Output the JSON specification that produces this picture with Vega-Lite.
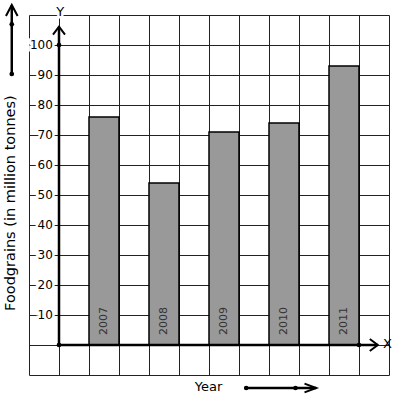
{
  "$schema": "https://vega.github.io/schema/vega-lite/v6.json",
  "width": 360,
  "height": 360,
  "autosize": "none",
  "padding": {"left": 29, "top": 15, "right": 8, "bottom": 26},
  "background": "white",
  "config": {"view": {"stroke": null}, "font": "DejaVu Sans"},
  "data": {"values": [{}]},
  "datasets": {
    "production": [
      {"year": 2007, "foodgrains": 76},
      {"year": 2008, "foodgrains": 54},
      {"year": 2009, "foodgrains": 71},
      {"year": 2010, "foodgrains": 74},
      {"year": 2011, "foodgrains": 93}
    ],
    "ticks": [
      {"v": 10}, {"v": 20}, {"v": 30}, {"v": 40}, {"v": 50},
      {"v": 60}, {"v": 70}, {"v": 80}, {"v": 90}, {"v": 100}
    ]
  },
  "layer": [
    {
      "data": {"name": "production"},
      "mark": {"type": "bar", "width": 30, "fill": "#999999", "stroke": "#000000", "strokeWidth": 1.5},
      "encoding": {
        "x": {"field": "year", "type": "quantitative",
              "scale": {"domain": [2005.75, 2011.75], "nice": false, "zero": false, "padding": 0},
              "axis": {"values": [2005.75, 2006.25, 2006.75, 2007.25, 2007.75, 2008.25, 2008.75, 2009.25, 2009.75, 2010.25, 2010.75, 2011.25, 2011.75],
                       "tickCount": 30,
                       "grid": true, "labels": false, "ticks": false, "domain": false, "title": null,
                       "gridColor": "#222222", "gridOpacity": 1, "gridWidth": 1}},
        "y": {"field": "foodgrains", "type": "quantitative",
              "scale": {"domain": [-10, 110], "nice": false, "zero": false, "padding": 0},
              "axis": {"values": [-10, 0, 10, 20, 30, 40, 50, 60, 70, 80, 90, 100, 110],
                       "tickCount": 30,
                       "grid": true, "labels": false, "ticks": false, "domain": false, "title": null,
                       "gridColor": "#222222", "gridOpacity": 1, "gridWidth": 1}},
        "y2": {"datum": 0}
      }
    },
    {
      "data": {"name": "production"},
      "mark": {"type": "text", "angle": 270, "align": "left", "baseline": "middle", "fontSize": 11, "fill": "#333333"},
      "encoding": {
        "x": {"field": "year", "type": "quantitative"},
        "y": {"datum": 3.3},
        "text": {"field": "year", "type": "nominal"}
      }
    },
    {
      "data": {"name": "ticks"},
      "mark": {"type": "text", "align": "right", "baseline": "middle", "fontSize": 12, "fill": "white", "stroke": "white", "strokeWidth": 5},
      "encoding": {
        "x": {"datum": 2006.147},
        "y": {"field": "v", "type": "quantitative"},
        "text": {"field": "v", "type": "nominal"}
      }
    },
    {
      "data": {"name": "ticks"},
      "mark": {"type": "text", "align": "right", "baseline": "middle", "fontSize": 12, "fill": "black"},
      "encoding": {
        "x": {"datum": 2006.147},
        "y": {"field": "v", "type": "quantitative"},
        "text": {"field": "v", "type": "nominal"}
      }
    },
    {
      "mark": {"type": "text", "text": "Y", "align": "center", "baseline": "middle", "fontSize": 13, "fill": "white", "stroke": "white", "strokeWidth": 5},
      "encoding": {"x": {"datum": 2006.27}, "y": {"datum": 111.1}}
    },
    {
      "mark": {"type": "text", "text": "Y", "align": "center", "baseline": "middle", "fontSize": 13, "fill": "black"},
      "encoding": {"x": {"datum": 2006.27}, "y": {"datum": 111.1}}
    },
    {
      "mark": {"type": "text", "text": "X", "align": "center", "baseline": "middle", "fontSize": 13, "fill": "black"},
      "encoding": {"x": {"datum": 2011.725}, "y": {"datum": 0.5}}
    },
    {
      "mark": {"type": "text", "text": "Year", "align": "center", "baseline": "middle", "fontSize": 13, "fill": "black"},
      "encoding": {"x": {"datum": 2008.742}, "y": {"datum": -14}}
    },
    {
      "mark": {"type": "text", "text": "Foodgrains (in million tonnes)", "angle": 270, "align": "center", "baseline": "middle", "fontSize": 14.5, "fill": "black"},
      "encoding": {"x": {"datum": 2005.458}, "y": {"datum": 47.3}}
    },
    {
      "mark": {"type": "rule", "stroke": "black", "strokeWidth": 2.5},
      "encoding": {"x": {"datum": 2006.25}, "y": {"datum": 0}, "y2": {"datum": 106.1}}
    },
    {
      "mark": {"type": "rule", "stroke": "black", "strokeWidth": 2.5},
      "encoding": {"x": {"datum": 2006.25}, "x2": {"datum": 2011.563}, "y": {"datum": 0}}
    },
    {
      "mark": {"type": "rule", "stroke": "black", "strokeWidth": 2.5},
      "encoding": {"x": {"datum": 2005.463}, "y": {"datum": 90.33}, "y2": {"datum": 113.33}}
    },
    {
      "mark": {"type": "rule", "stroke": "black", "strokeWidth": 2.5},
      "encoding": {"x": {"datum": 2009.37}, "x2": {"datum": 2010.537}, "y": {"datum": -14.33}}
    },
    {
      "mark": {"type": "point", "shape": "M-0.75,1L0,0L0.75,1", "size": 256, "filled": false, "stroke": "black", "strokeWidth": 2, "opacity": 1},
      "encoding": {"x": {"datum": 2006.25}, "y": {"datum": 106.1}}
    },
    {
      "mark": {"type": "point", "shape": "M-0.53,1L0,0L0.53,1", "size": 484, "filled": false, "stroke": "black", "strokeWidth": 2, "opacity": 1},
      "encoding": {"x": {"datum": 2005.463}, "y": {"datum": 113.33}}
    },
    {
      "mark": {"type": "point", "shape": "M-1,-0.75L0,0L-1,0.75", "size": 256, "filled": false, "stroke": "black", "strokeWidth": 2, "opacity": 1},
      "encoding": {"x": {"datum": 2011.563}, "y": {"datum": 0}}
    },
    {
      "mark": {"type": "point", "shape": "M-1,-0.37L0,0L-1,0.37", "size": 548, "filled": false, "stroke": "black", "strokeWidth": 2, "opacity": 1},
      "encoding": {"x": {"datum": 2010.537}, "y": {"datum": -14.33}}
    },
    {
      "mark": {"type": "point", "shape": "circle", "size": 22, "filled": true, "color": "black", "opacity": 1},
      "encoding": {"x": {"datum": 2006.25}, "y": {"datum": 0}}
    },
    {
      "mark": {"type": "point", "shape": "circle", "size": 22, "filled": true, "color": "black", "opacity": 1},
      "encoding": {"x": {"datum": 2006.25}, "y": {"datum": 100}}
    },
    {
      "mark": {"type": "point", "shape": "circle", "size": 22, "filled": true, "color": "black", "opacity": 1},
      "encoding": {"x": {"datum": 2011.25}, "y": {"datum": 0}}
    },
    {
      "mark": {"type": "point", "shape": "circle", "size": 22, "filled": true, "color": "black", "opacity": 1},
      "encoding": {"x": {"datum": 2005.463}, "y": {"datum": 106.9}}
    },
    {
      "mark": {"type": "point", "shape": "circle", "size": 22, "filled": true, "color": "black", "opacity": 1},
      "encoding": {"x": {"datum": 2005.463}, "y": {"datum": 90.33}}
    },
    {
      "mark": {"type": "point", "shape": "circle", "size": 22, "filled": true, "color": "black", "opacity": 1},
      "encoding": {"x": {"datum": 2009.37}, "y": {"datum": -14.33}}
    },
    {
      "mark": {"type": "point", "shape": "circle", "size": 22, "filled": true, "color": "black", "opacity": 1},
      "encoding": {"x": {"datum": 2010.192}, "y": {"datum": -14.33}}
    }
  ]
}
